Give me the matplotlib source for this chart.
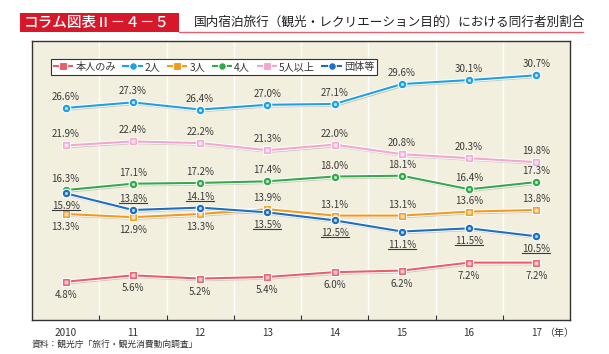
import matplotlib
matplotlib.use("Agg")
import matplotlib.pyplot as plt
import matplotlib.patheffects as pe
from matplotlib.lines import Line2D
from matplotlib.patches import Rectangle

plt.rcParams['font.family'] = ['Noto Sans CJK JP', 'DejaVu Sans']

years = ['2010', '11', '12', '13', '14', '15', '16', '17']
series_names = ['本人のみ', '2人', '3人', '4人', '5人以上', '団体等']
honnin = [4.8, 5.6, 5.2, 5.4, 6.0, 6.2, 7.2, 7.2]
futari = [26.6, 27.3, 26.4, 27.0, 27.1, 29.6, 30.1, 30.7]
sannin = [13.3, 12.9, 13.3, 13.9, 13.1, 13.1, 13.6, 13.8]
yonin = [16.3, 17.1, 17.2, 17.4, 18.0, 18.1, 16.4, 17.3]
gonin = [21.9, 22.4, 22.2, 21.3, 22.0, 20.8, 20.3, 19.8]
dantai = [15.9, 13.8, 14.1, 13.5, 12.5, 11.1, 11.5, 10.5]

# label placement: +1 above, -1 below
pos_honnin = [-1] * 8
pos_futari = [1] * 8
pos_sannin = [-1, -1, -1, 1, 1, 1, 1, 1]
pos_yonin = [1] * 8
pos_gonin = [1] * 8
pos_dantai = [-1, 1, 1, -1, -1, -1, -1, -1]

colors = ['#ea5e6a', '#1ea0e2', '#f39a1e', '#35a84a', '#f4a6cc', '#1f6ec0']
markers = ['s', 'o', 's', 'o', 's', 'o']
inner = ['#f8c6c8', '#bfe6f9', '#fbdcae', '#bfe6c4', '#fde0ee', '#b9d5f2']

data = [honnin, futari, sannin, yonin, gonin, dantai]
positions = [pos_honnin, pos_futari, pos_sannin, pos_yonin, pos_gonin, pos_dantai]

W, H = 609, 354
fig = plt.figure(figsize=(W / 100, H / 100), dpi=100)
ax = fig.add_axes([32 / W, 1 - 320 / H, (570 - 32) / W, (320 - 41) / H])
ax.set_facecolor('#f2efdf')
ax.set_xlim(-0.5, 7.5)
ax.set_ylim(0, 35)

for b in [0.5 + i for i in range(7)]:
    ax.axvline(b, color='white', lw=1.0, zorder=1)

x = list(range(len(years)))
effects = [pe.SimpleLineShadow(offset=(1.2, -1.2), shadow_color='#777777', alpha=0.35),
           pe.Stroke(linewidth=2.9, foreground='white'), pe.Normal()]
order = [0, 4, 3, 2, 5, 1]
for k in order:
    ax.plot(x, data[k], color=colors[k], lw=1.5, zorder=3 + k * 0.1,
            path_effects=effects, solid_capstyle='round')
    ax.plot(x, data[k], linestyle='none', marker=markers[k], ms=6.2,
            mfc=colors[k], mec='white', mew=0.8, zorder=4 + k * 0.1)
    ax.plot(x, data[k], linestyle='none', marker=markers[k], ms=2.2,
            mfc=inner[k], mec='none', zorder=4.05 + k * 0.1)

texts_to_underline = []
for k in range(6):
    for i, v in enumerate(data[k]):
        p = positions[k][i]
        t = ax.annotate(f'{v:.1f}%', (i, v), xytext=(0, 11 if p > 0 else -13),
                        textcoords='offset pixels',
                        ha='center', va='center', fontsize=7.0, color='#3a3a3a', zorder=6)
        if k == 5:
            texts_to_underline.append(t)

ax.set_yticks([])
ax.set_xticks([0.5 + i for i in range(7)])
ax.set_xticklabels([])
ax.tick_params(axis='x', direction='in', length=3.5, width=0.8, color='#333333')
for i, lab in enumerate(years):
    ax.text(i, -0.03, lab, transform=ax.get_xaxis_transform(), ha='center', va='top',
            fontsize=7.2, color='#333333')
ax.text(7.12, -0.03, '（年）', transform=ax.get_xaxis_transform(), ha='left', va='top',
        fontsize=7.2, color='#333333')
for s in ax.spines.values():
    s.set_color('#333333')
    s.set_linewidth(1.0)

handles = [Line2D([0], [0], color=colors[k], lw=1.5, marker=markers[k], ms=5.5,
                  mfc=colors[k], mec='white', mew=0.8) for k in range(6)]
leg = ax.legend(handles, series_names, ncol=6, loc='upper left',
                bbox_to_anchor=((51 - 32) / 538, 1 - (59 - 41) / 279),
                fontsize=7.3, frameon=True, fancybox=False, edgecolor='#333333',
                handlelength=1.8, handletextpad=0.3, columnspacing=0.75,
                borderpad=0.3, borderaxespad=0, framealpha=1)
leg.get_frame().set_linewidth(0.8)
leg.get_frame().set_facecolor('white')
leg.set_zorder(10)
for t in leg.get_texts():
    t.set_color('#333333')

# title
fig.patches.append(Rectangle((20 / W, 1 - 32 / H), (179 - 20) / W, (32 - 13) / H,
                             transform=fig.transFigure, facecolor='#d7182a', edgecolor='none'))
fig.lines.append(Line2D([179 / W, 583 / W], [1 - 32 / H, 1 - 32 / H], transform=fig.transFigure,
                        color='#e06070', lw=1.0))
fig.text(24 / W, 1 - 22.5 / H, 'コラム図表Ⅱ－４－５', color='white', fontsize=10.5,
         va='center', ha='left', fontweight='medium')
fig.text(194 / W, 1 - 22 / H, '国内宿泊旅行（観光・レクリエーション目的）における同行者別割合',
         color='#222222', fontsize=9.1, va='center', ha='left')
fig.text(32 / W, 1 - 344 / H, '資料：観光庁「旅行・観光消費動向調査」', color='#333333',
         fontsize=6.3, va='center', ha='left')

fig.canvas.draw()
r = fig.canvas.get_renderer()
for t in texts_to_underline:
    bb = t.get_window_extent(r)
    y = bb.y0 + 1.0
    fig.lines.append(Line2D([bb.x0 / W, bb.x1 / W], [y / H, y / H], transform=fig.transFigure,
                            color='#3a3a3a', lw=0.8, zorder=7))

fig.savefig('out.png', dpi=100, facecolor='white')
